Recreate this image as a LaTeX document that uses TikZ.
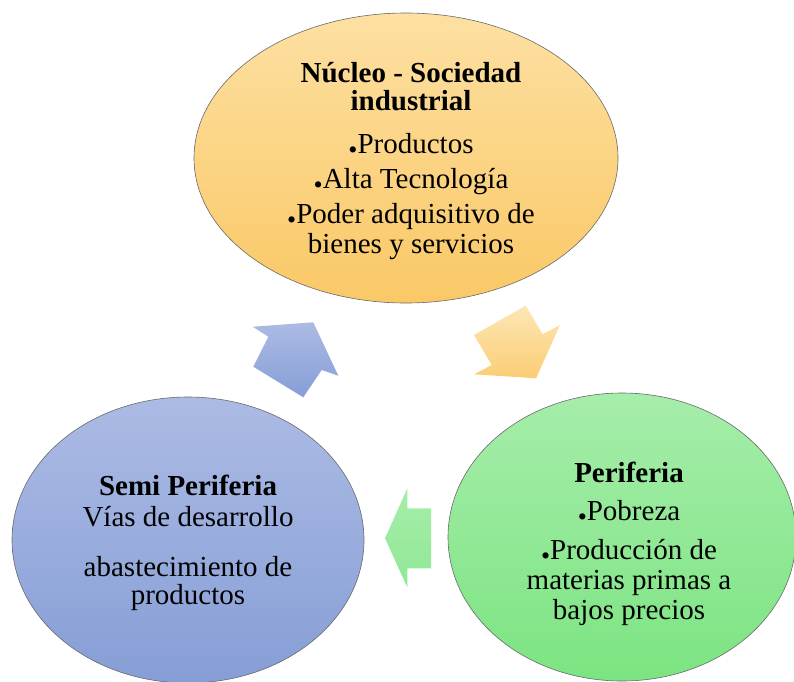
\documentclass[tikz,border=0pt]{standalone}
\usepackage{fontspec}
\setmainfont{Liberation Serif}
\usetikzlibrary{shapes.geometric}
\definecolor{coreTop}{RGB}{253,224,162}
\definecolor{coreBot}{RGB}{250,200,102}
\definecolor{semiTop}{RGB}{172,187,228}
\definecolor{semiBot}{RGB}{134,158,214}
\definecolor{periTop}{RGB}{166,237,170}
\definecolor{periBot}{RGB}{124,228,130}
\definecolor{rimgray}{RGB}{105,105,105}

\newcommand{\bul}{\raisebox{-5pt}{\fontsize{26}{26}\selectfont\textbullet}}

\begin{document}
\begin{tikzpicture}[x=1pt, y=-1pt,
    zone/.style={ellipse, draw=rimgray, line width=0.6pt, inner sep=0pt},
    zonetext/.style={align=center, inner sep=0pt, font=\fontsize{29}{30}\selectfont}]
        \useasboundingbox (0,0) rectangle (794,681);
        \clip (0,0) rectangle (794,681);

        % Ellipses
        \node[zone, top color=coreTop, bottom color=coreBot, minimum width=424, minimum height=290] (nucleo) at (406,158) {};
        \node[zone, top color=semiTop, bottom color=semiBot, minimum width=352, minimum height=286] (semi) at (188,540) {};
        \node[zone, top color=periTop, bottom color=periBot, minimum width=348, minimum height=288] (peri) at (622,537) {};

        % Texts
        \node[zonetext] (nucleotext) at ([shift={(5,3)}]nucleo.center)
            {\textbf{Núcleo - Sociedad}\\[-2pt]\textbf{industrial}\\[13pt]\bul Productos\\[5pt]\bul Alta Tecnología\\[5pt]\bul Poder adquisitivo de\\bienes y servicios};
        \node[zonetext] (semitext) at ([shift={(0,3)}]semi.center)
            {\textbf{Semi Periferia}\\[1pt]Vías de desarrollo\\[20pt]abastecimiento de\\[-2pt]productos};
        \node[zonetext] (peritext) at ([shift={(7,7)}]peri.center)
            {\textbf{Periferia}\\[8pt]\bul Pobreza\\[9pt]\bul Producción de\\materias primas a\\bajos precios};

        % Arrows
        \shade[top color=coreTop!80!white, bottom color=coreBot!90!white] (474,335) -- (525.7,305.7) -- (542.7,334.3) -- (560,325) -- (536,378.3) -- (474,374.3) -- (491.7,365) -- cycle;
        \shade[top color=periTop, bottom color=periBot!85!white] (385,538.3) -- (407.3,488.3) -- (407.3,508.3) -- (431,508.3) -- (431,568.3) -- (407.3,568.3) -- (407.3,587.3) -- cycle;
        \shade[top color=semiTop, bottom color=semiBot] (252.7,326.7) -- (313.3,322.3) -- (338.3,375.7) -- (321.7,370) -- (303.3,397.3) -- (253.3,366.7) -- (268.3,336.7) -- cycle;
    \end{tikzpicture}
\end{document}
